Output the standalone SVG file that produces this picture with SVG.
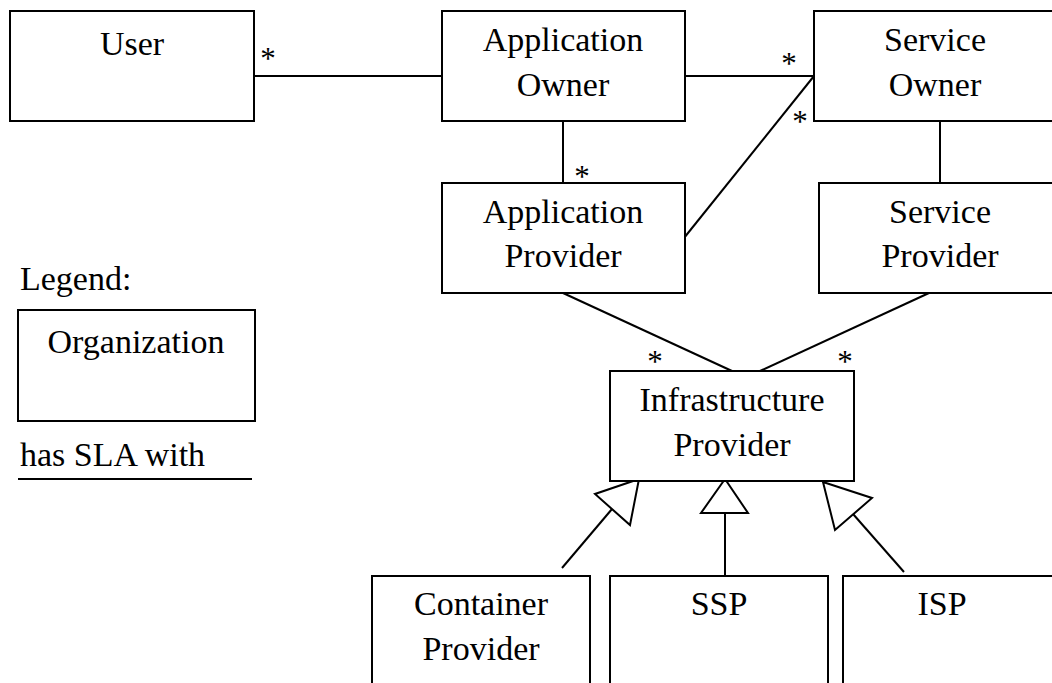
<svg xmlns="http://www.w3.org/2000/svg" width="1052" height="683" viewBox="0 0 1052 683">
<style>
.box{fill:#fff;stroke:#000;stroke-width:2}
.ln{stroke:#000;stroke-width:2;fill:none}
.tri{fill:#fff;stroke:#000;stroke-width:2;stroke-linejoin:miter}
text{font-family:"Liberation Serif","Times New Roman",serif;font-size:34px;fill:#000}
.c{text-anchor:middle}
.star{font-size:31px;text-anchor:middle}
</style>
<rect width="1052" height="683" fill="#fff"/>
<g id="connectors">
<line class="ln" x1="254" y1="76" x2="442" y2="76"/>
<line class="ln" x1="685" y1="76" x2="814" y2="76"/>
<line class="ln" x1="814" y1="76" x2="684" y2="238"/>
<line class="ln" x1="563" y1="121" x2="563" y2="183"/>
<line class="ln" x1="940" y1="121" x2="940" y2="183"/>
<line class="ln" x1="563" y1="293" x2="732" y2="371"/>
<line class="ln" x1="929" y1="293" x2="760" y2="371"/>
<line class="ln" x1="562" y1="568" x2="612" y2="509"/>
<line class="ln" x1="725" y1="513" x2="725" y2="576"/>
<line class="ln" x1="904" y1="572" x2="853" y2="514"/>
<polygon class="tri" points="639,479 595,494 630,525"/>
<polygon class="tri" points="725,479 701,513 748,513"/>
<polygon class="tri" points="823,482 872,498 835,530"/>
<text class="star" x="268" y="69">*</text>
<text class="star" x="789" y="74">*</text>
<text class="star" x="800" y="132">*</text>
<text class="star" x="582" y="187">*</text>
<text class="star" x="655" y="372">*</text>
<text class="star" x="845" y="372">*</text>
</g>
<g id="user">
<rect class="box" x="10" y="11" width="244" height="110"/>
<text class="c" x="132" y="55">User</text>
</g>
<g id="application-owner">
<rect class="box" x="442" y="11" width="243" height="110"/>
<text class="c" x="563" y="51">Application</text>
<text class="c" x="563" y="96">Owner</text>
</g>
<g id="service-owner">
<rect class="box" x="814" y="11" width="260" height="110"/>
<text class="c" x="935" y="51">Service</text>
<text class="c" x="935" y="96">Owner</text>
</g>
<g id="application-provider">
<rect class="box" x="442" y="183" width="243" height="110"/>
<text class="c" x="563" y="223">Application</text>
<text class="c" x="563" y="267">Provider</text>
</g>
<g id="service-provider">
<rect class="box" x="819" y="183" width="260" height="110"/>
<text class="c" x="940" y="223">Service</text>
<text class="c" x="940" y="267">Provider</text>
</g>
<g id="infrastructure-provider">
<rect class="box" x="610" y="371" width="244" height="110"/>
<text class="c" x="732" y="411">Infrastructure</text>
<text class="c" x="732" y="456">Provider</text>
</g>
<g id="container-provider">
<rect class="box" x="372" y="576" width="218" height="130"/>
<text class="c" x="481" y="615">Container</text>
<text class="c" x="481" y="660">Provider</text>
</g>
<g id="ssp">
<rect class="box" x="610" y="576" width="218" height="130"/>
<text class="c" x="719" y="615">SSP</text>
</g>
<g id="isp">
<rect class="box" x="843" y="576" width="230" height="130"/>
<text class="c" x="942" y="615">ISP</text>
</g>
<g id="legend">
<text x="20" y="290">Legend:</text>
<rect class="box" x="18" y="310" width="237" height="111"/>
<text class="c" x="136" y="353">Organization</text>
<text x="20" y="466">has SLA with</text>
<line class="ln" x1="18" y1="479" x2="252" y2="479"/>
</g>
</svg>
